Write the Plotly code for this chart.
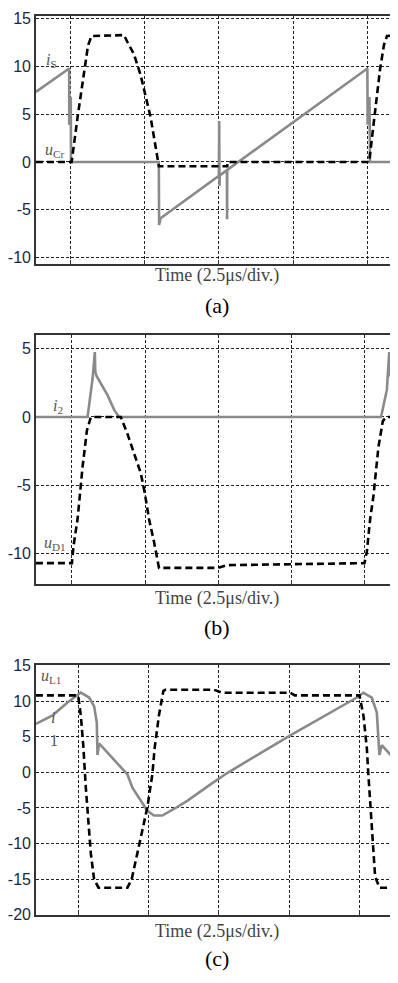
import plotly.graph_objects as go

# ---------------- data (time in µs, 2.5 µs per division) ----------------
# Panel (a): i_S (grey solid) and u_Cr (black dashed)
a_is_t = [1.35, 2.466, 2.47, 2.52, 2.53, 5.48, 5.49, 5.54, 7.50, 7.51, 7.52, 7.53,
          7.77, 7.775, 7.78, 12.49, 12.50, 12.56, 12.58, 13.52]
a_is_v = [7.35, 9.8, 3.9, 6.8, 0.0, 0.0, -6.6, -5.9, -1.45, 4.3, -2.5, -1.4,
          -0.85, -6.0, -0.83, 9.8, 3.9, 6.8, 0.0, 0.0]
a_ucr_t = [1.35, 2.55, 2.75, 2.97, 3.10, 3.22, 4.31, 4.42, 4.645, 4.87, 4.98, 5.204,
           5.372, 5.483, 7.78, 7.79, 12.55, 12.75, 12.92, 13.05, 13.15, 13.52]
a_ucr_v = [0.0, 0.0, 4.7, 9.5, 12.2, 13.2, 13.3, 12.6, 11.3, 9.1, 7.6, 4.7,
           1.6, -0.45, -0.45, 0.0, 0.0, 5.5, 9.8, 12.3, 13.2, 13.3]

# Panel (b): i_2 (grey solid) and u_D1 (black dashed)
b_i2_t = [1.27, 3.035, 3.206, 3.284, 3.30, 3.342, 3.718, 3.95, 4.113,
          13.07, 13.27, 13.35, 13.37, 13.40, 13.65]
b_i2_v = [0.0, 0.0, 2.8, 4.75, 3.3, 3.0, 1.6, 0.5, 0.0,
          0.0, 2.0, 4.75, 3.3, 3.0, 1.9]
b_ud1_t = [1.27, 2.50, 2.558, 2.694, 2.865, 3.012, 3.148, 4.171, 4.40, 4.625, 4.853,
           4.99, 5.136, 5.307, 5.478, 7.48, 7.787, 12.503, 12.585, 12.698, 12.81,
           12.981, 13.131, 13.244, 13.65]
b_ud1_v = [-10.7, -10.7, -9.4, -7.47, -3.64, -1.0, 0.0, 0.0, -1.24, -2.68, -4.1,
           -5.55, -7.47, -9.14, -11.05, -11.05, -10.85, -10.7, -9.86, -7.47, -5.79,
           -2.2, -0.3, 0.0, 0.0]

# Panel (c): i_L1 (grey solid) and u_L1 (black dashed)
c_il_t = [1.0, 1.592, 2.124, 2.479, 2.596, 2.89, 3.067, 3.163, 3.188, 3.245, 3.58,
          3.897, 4.074, 4.252, 4.429, 4.723, 4.961, 5.195, 5.493, 5.904, 6.379,
          7.205, 7.798, 10.043, 12.408, 12.642, 12.94, 13.117, 13.174, 13.209,
          13.294, 13.826, 13.872]
c_il_v = [6.8, 8.0, 9.8, 10.95, 11.2, 10.5, 9.3, 7.0, 2.45, 4.05, 2.6,
          1.3, 0.6, -0.3, -2.15, -4.0, -5.4, -6.07, -6.07, -5.15, -4.0,
          -1.7, -0.1, 5.2, 10.5, 11.17, 10.5, 8.4, 4.7, 2.45,
          3.8, 1.5, 1.3]
c_ul_t = [1.0, 2.50, 2.596, 2.69, 2.773, 2.855, 2.95, 3.067, 3.223, 4.252, 4.404,
          4.606, 4.784, 4.961, 5.138, 5.22, 5.372, 5.528, 5.6, 7.32, 7.62, 10.04,
          10.2, 12.5, 12.642, 12.762, 12.81, 12.88, 12.975, 13.056, 13.21, 13.872]
c_ul_v = [10.8, 10.8, 7.96, 3.37, -2.15, -6.76, -11.35, -15.0, -16.2, -16.2, -15.0,
          -11.35, -8.1, -4.9, -0.3, 3.4, 8.0, 11.4, 11.6, 11.6, 11.17, 11.17,
          10.8, 10.8, 7.96, 3.4, 0.1, -4.45, -9.5, -14.6, -16.2, -16.2]

# axis settings per panel
x_ranges = [[1.35, 13.52], [1.27, 13.65], [1.0, 13.87]]
y_ranges = [[-10.65, 15.3], [-12.2, 6.0], [-20, 15]]
y_ticks = [[15, 10, 5, 0, -5, -10], [5, 0, -5, -10], [15, 10, 5, 0, -5, -10, -15, -20]]
x_title = "Time (2.5μs/div.)"
panel_tags = ["(a)", "(b)", "(c)"]

# the page body has an 8px margin: figure spans page px 8..398 x 8..983
OFF = 8
W, H = 398 - OFF, 983 - OFF
GREY = "rgb(138,138,138)"
DASHC = "black"


def py(p):
    return 1 - (p - OFF) / H


def px(p):
    return (p - OFF) / W


fig = go.Figure()

domains_px = [(8, 260), (332.7, 585.7), (669, 922.7)]
series = [
    (a_is_t, a_is_v, a_ucr_t, a_ucr_v),
    (b_i2_t, b_i2_v, b_ud1_t, b_ud1_v),
    (c_il_t, c_il_v, c_ul_t, c_ul_v),
]

for i, (gt, gv, dt, dv) in enumerate(series):
    xa = "x" if i == 0 else f"x{i+1}"
    ya = "y" if i == 0 else f"y{i+1}"
    fig.add_trace(go.Scatter(x=gt, y=gv, mode="lines", xaxis=xa, yaxis=ya,
                             line=dict(color=GREY, width=2.6), showlegend=False))
    fig.add_trace(go.Scatter(x=dt, y=dv, mode="lines", xaxis=xa, yaxis=ya,
                             line=dict(color=DASHC, width=2.6, dash="7px,4px"),
                             showlegend=False))

layout = dict(width=W, height=H, margin=dict(l=0, r=0, t=0, b=0),
              paper_bgcolor="white", plot_bgcolor="white", showlegend=False)

for i in range(3):
    top, bot = domains_px[i]
    xk = "xaxis" if i == 0 else f"xaxis{i+1}"
    yk = "yaxis" if i == 0 else f"yaxis{i+1}"
    xa = "x" if i == 0 else f"x{i+1}"
    ya = "y" if i == 0 else f"y{i+1}"
    layout[xk] = dict(domain=[px(35), 1], range=x_ranges[i], anchor=ya,
                      tick0=0, dtick=2.5, showticklabels=False,
                      ticks="inside", ticklen=4, tickcolor="#333",
                      showgrid=True, gridcolor="#222", gridwidth=1,
                      griddash="3px,2px", zeroline=False,
                      showline=True, linecolor="#333", linewidth=1.5, mirror=True)
    layout[yk] = dict(domain=[max(0, py(bot)), min(1, py(top))], range=y_ranges[i], anchor=xa,
                      tickmode="array", tickvals=y_ticks[i],
                      ticktext=[str(v) for v in y_ticks[i]],
                      tickfont=dict(family="Liberation Sans, Arial", size=16, color="#1e2540"),
                      showgrid=True, gridcolor="#222", gridwidth=1,
                      griddash="3px,2px", zeroline=False, ticks="",
                      showline=True, linecolor="#333", linewidth=1.5, mirror=False)

fig.update_layout(**layout)

serif = "Liberation Serif, Times New Roman, serif"
ann = []
title_y = [272, 601, 940]
tag_y = [303, 630, 967]
for i in range(3):
    ann.append(dict(x=px(216.5), y=py(title_y[i]), xref="paper", yref="paper",
                    text=x_title, showarrow=False,
                    font=dict(family=serif, size=18, color="#444"),
                    xanchor="center", yanchor="middle"))
    ann.append(dict(x=px(216.5), y=py(tag_y[i]), xref="paper", yref="paper",
                    text=panel_tags[i], showarrow=False,
                    font=dict(family=serif, size=22, color="black"),
                    xanchor="center", yanchor="middle"))

labels = [
    ("<i>i</i><sub>S</sub>", 51, 53),
    ("<i>u</i><sub>Cr</sub>", 54, 145),
    ("<i>i</i><sub>2</sub>", 57, 405),
    ("<i>u</i><sub>D1</sub>", 54, 545),
    ("<i>u</i><sub>L1</sub>", 50, 680),
    ("<i>i</i>", 52, 722),
    ("1", 53, 745),
]
for txt, lx, ly in labels:
    ann.append(dict(x=px(lx), y=py(ly), xref="paper", yref="paper", text=txt,
                    showarrow=False, font=dict(family=serif, size=16, color="#555"),
                    xanchor="center", yanchor="middle"))

fig.update_layout(annotations=ann)
fig.write_html("out.html")
